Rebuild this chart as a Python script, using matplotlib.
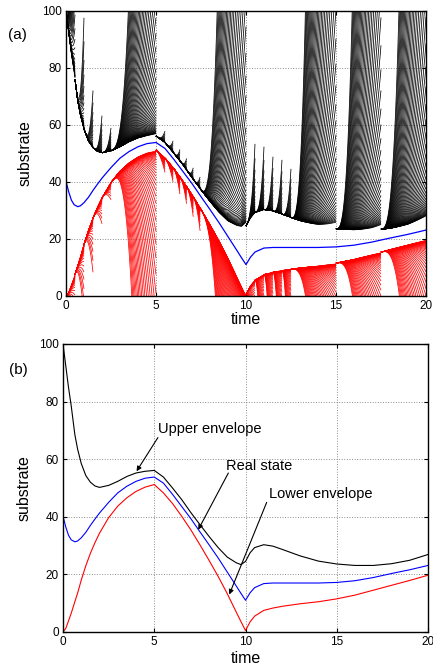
import numpy as np
import matplotlib
matplotlib.use('Agg')
import matplotlib.pyplot as plt
from matplotlib.collections import LineCollection

plt.rcParams['font.family'] = ['Liberation Sans', 'DejaVu Sans']

# envelopes and real state
time = [0, 0.15, 0.3, 0.45, 0.65, 0.8, 1.0, 1.25, 1.5, 1.75, 2.0, 2.5, 3.0, 3.5,
        4.0, 4.5, 5.0, 5.5, 6.0, 6.5, 7.0, 7.5, 8.0, 8.5, 9.0, 9.5, 9.75, 10.0,
        10.25, 10.5, 11.0, 11.5, 12.0, 13.0, 14.0, 15.0, 16.0, 17.0, 18.0, 19.0, 20.0]
upper = [100, 92.5, 85, 78.5, 68.5, 63.5, 58.5, 54.3, 52, 50.7, 50.2, 50.9, 52.3, 54,
         55.2, 55.8, 56.1, 53.8, 50, 46, 41.5, 37.3, 33.2, 29.3, 26, 24, 23.4, 24.5,
         27.5, 29.3, 30.3, 29.8, 28.7, 26.4, 24.6, 23.6, 23.1, 23.1, 23.7, 24.9, 26.9]
real = [40.2, 36.5, 33.6, 32, 31.3, 31.6, 32.7, 34.6, 37, 39.2, 41.3, 45, 48.3, 50.6,
        52.3, 53.4, 53.8, 51.7, 47.8, 43.6, 39.4, 34.8, 30.3, 25.7, 20.8, 15.9, 13.4, 11.0,
        13.6, 15.4, 16.8, 17.0, 17.0, 17.0, 17.0, 17.2, 17.8, 18.9, 20.3, 21.6, 23.1]
lower = [0, 1.2, 3.8, 6.5, 10.5, 13.5, 18.0, 23, 27.3, 31, 34.3, 39.7, 43.7, 46.6,
         48.8, 50.3, 51.2, 48.3, 44.6, 40.2, 35.5, 30.3, 24.9, 19.3, 13.3, 6.8, 3.6, 0.5,
         3.5, 5.5, 7.5, 8.3, 8.9, 9.8, 10.5, 11.5, 12.8, 14.5, 16.2, 17.9, 19.7]

# panel (a): reset times and how far each fan of trajectories spreads by the next reset
resets = [0, 0.5, 1.0, 1.5, 2.0, 2.5, 5.0, 5.5, 5.95, 6.33, 6.7, 7.07, 7.45,
          10.0, 10.5, 11.0, 11.5, 12.0, 12.5, 15.0, 17.5, 20.0]
black_spread = [500, 39, 20, 13, 8, 800, 4, 4, 4, 4, 4, 4, 1350,
                24, 22, 19, 19, 17, 2260, 1650, 1190]
red_spread = [200, 25, 19, 9, 6, 480, 5, 5, 6, 6, 7, 8, 580,
              64, 64, 64, 64, 64, 300, 258, 250]


def style(ax, xlab_y, ylab_x):
    ax.set_xlim(0, 20)
    ax.set_ylim(0, 100)
    ax.set_xticks(range(0, 21, 5))
    ax.set_yticks(range(0, 101, 20))
    ax.grid(True, linestyle=':', color='0.55', linewidth=0.7)
    ax.set_axisbelow(True)
    ax.tick_params(direction='in', top=True, right=True, length=3,
                   labelsize=8.5, pad=3)
    for sp in ax.spines.values():
        sp.set_linewidth(1.0)
    ax.set_xlabel('time', fontsize=11.5)
    ax.set_ylabel('substrate', fontsize=11.5)
    ax.xaxis.set_label_coords(0.5, xlab_y)
    ax.yaxis.set_label_coords(ylab_x, 0.5)


fig = plt.figure(figsize=(4.33, 6.66), dpi=100)
ax1 = fig.add_axes([0.1524, 0.5556, 0.8314, 0.4284])
ax2 = fig.add_axes([0.1455, 0.0511, 0.843, 0.4324])

# ---- panel (a): fans of trajectories between resets ----
for k in range(len(resets) - 1):
    t0, t1 = resets[k], resets[k + 1]
    long_seg = (t1 - t0) > 1
    n_pts = 200 if long_seg else 40
    n_lines = 50 if long_seg else 30
    tt = np.linspace(t0, t1, n_pts)
    s = (tt - t0) / (t1 - t0)
    scale = np.geomspace(1e-3, 1, n_lines)
    up = np.interp(tt, time, upper)
    lo = np.interp(tt, time, lower)
    p_red = 3 if long_seg else 2
    segs_b = [np.column_stack([tt, up + black_spread[k] * c * s ** 3]) for c in scale]
    segs_r = [np.column_stack([tt, lo - red_spread[k] * c * s ** p_red]) for c in scale]
    ax1.add_collection(LineCollection(segs_b, colors='k', linewidths=0.55))
    ax1.add_collection(LineCollection(segs_r, colors='r', linewidths=0.55))

ax1.plot(time, real, color='b', lw=0.9)
style(ax1, -0.056, -0.094)

# ---- panel (b): envelopes ----
ax2.plot(time, upper, color='k', lw=0.8)
ax2.plot(time, real, color='b', lw=0.8)
ax2.plot(time, lower, color='r', lw=0.8)
style(ax2, -0.066, -0.085)

arrow = dict(arrowstyle='-|>', color='k', lw=0.8, mutation_scale=7,
             shrinkA=0, shrinkB=0)
ax2.text(5.2, 70.5, 'Upper envelope', fontsize=10.5, va='center', ha='left')
ax2.annotate('', xy=(4.03, 55.8), xytext=(5.2, 67.5), arrowprops=arrow)
ax2.text(8.93, 57.8, 'Real state', fontsize=10.5, va='center', ha='left')
ax2.annotate('', xy=(7.41, 35.5), xytext=(9.06, 55.2), arrowprops=arrow)
ax2.text(11.3, 48, 'Lower envelope', fontsize=10.5, va='center', ha='left')
ax2.annotate('', xy=(9.11, 13), xytext=(11.16, 45), arrowprops=arrow)

fig.text(0.019, 0.9474, '(a)', fontsize=11, va='center', ha='left')
fig.text(0.021, 0.4437, '(b)', fontsize=11, va='center', ha='left')

fig.savefig('out.png', dpi=100)
